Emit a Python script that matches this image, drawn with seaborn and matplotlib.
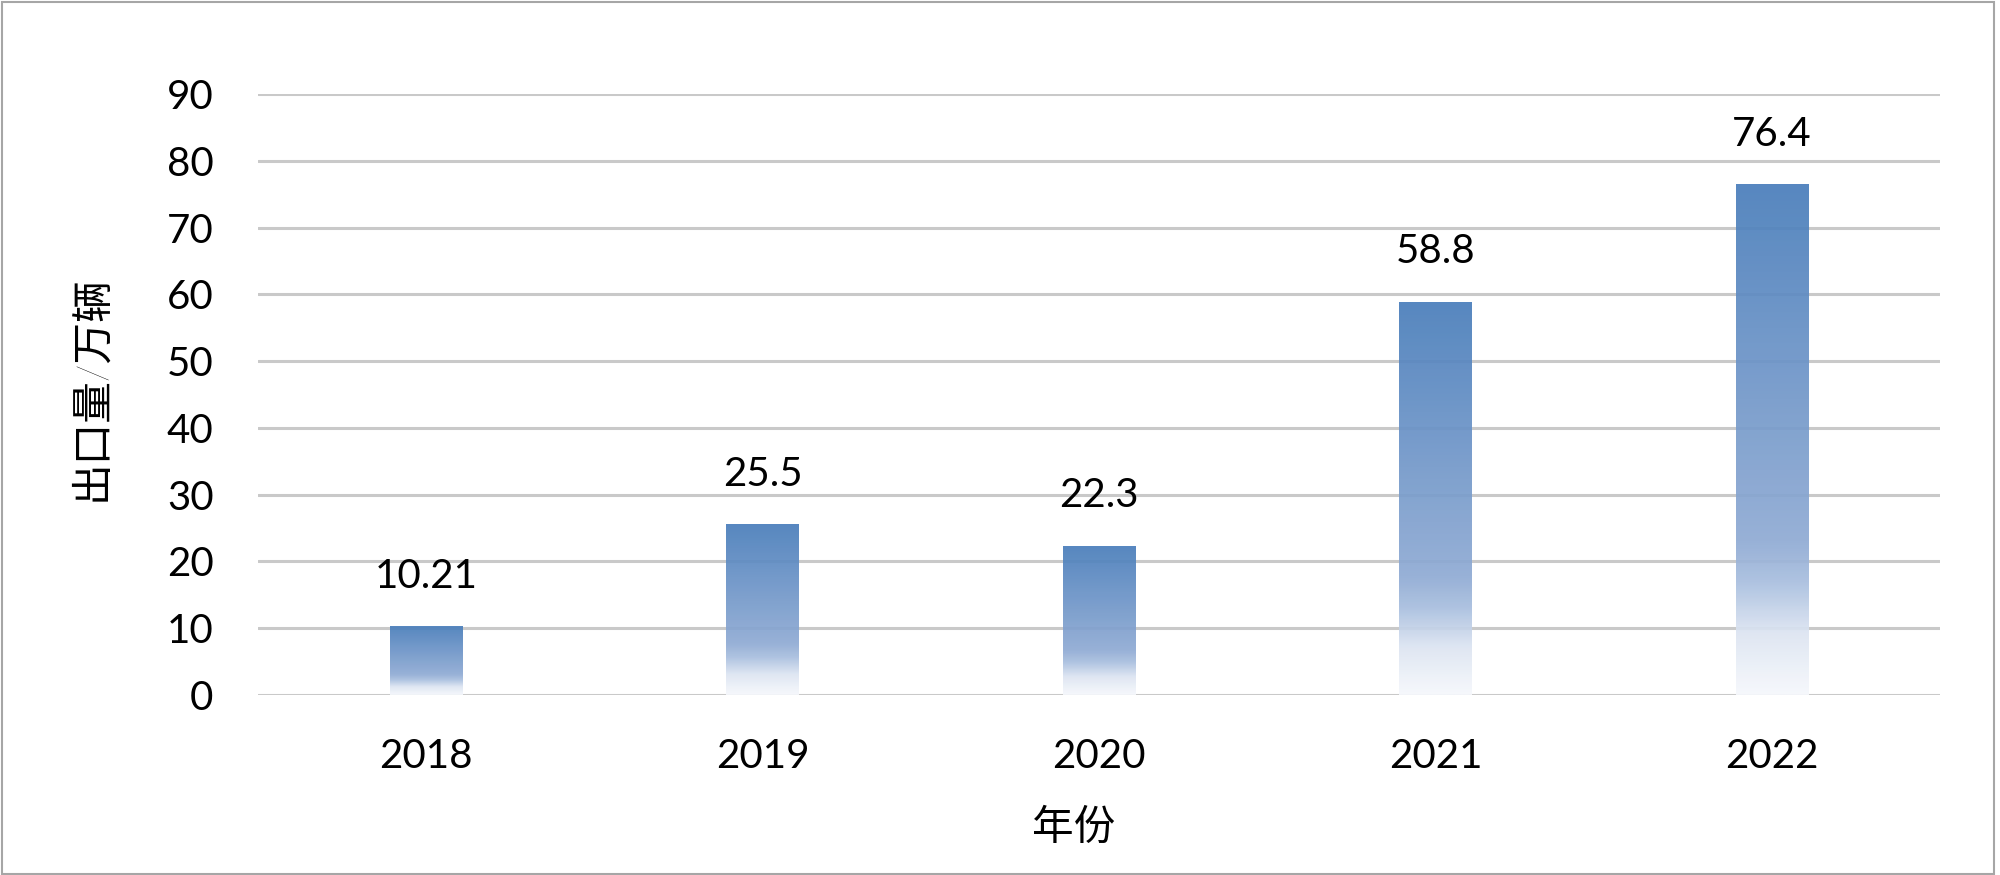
import numpy as np
import pandas as pd
import matplotlib
matplotlib.use("Agg")
import matplotlib.pyplot as plt
import seaborn as sns
from matplotlib.colors import LinearSegmentedColormap
from matplotlib.patches import Rectangle

years = ["2018", "2019", "2020", "2021", "2022"]
exports = [10.21, 25.5, 22.3, 58.8, 76.4]
yticks = [0, 10, 20, 30, 40, 50, 60, 70, 80, 90]
xlabel = "年份"
ylabel = "出口量/万辆"

sns.set_theme(style="white")
plt.rcParams['font.family'] = ['Lato', 'Noto Sans CJK SC', 'DejaVu Sans']

df = pd.DataFrame({"year": years, "value": exports})

fig = plt.figure(figsize=(20, 8.75), dpi=100)
ax = fig.add_axes([0.129, 0.2057, 0.841, 0.6869])

sns.barplot(data=df, x="year", y="value", ax=ax, width=0.215, color="#4a7ebb",
            saturation=1, zorder=2)

ax.set_ylim(0, 90)
ax.set_xlim(-0.5, 4.5)
ax.set_yticks(yticks)
ax.yaxis.grid(True, color="#c9c9c9", linewidth=2.2, zorder=0)
ax.set_axisbelow(True)
for s in ax.spines.values():
    s.set_visible(False)

cmap = LinearSegmentedColormap.from_list(
    "g", [(0.0, "#f6f8fc"), (0.12, "#dde5f2"), (0.22, "#a9bfdf"),
          (0.3, "#90abd4"), (1.0, "#4a7ebb")])
grad = np.linspace(0, 1, 256).reshape(-1, 1)
for p in ax.patches:
    x0, y0, w, h = p.get_x(), p.get_y(), p.get_width(), p.get_height()
    ax.imshow(grad, extent=[x0, x0 + w, y0, y0 + h], origin="lower", cmap=cmap,
              aspect="auto", zorder=2, alpha=0.93, interpolation="bilinear")
    p.set_facecolor("none")
    p.set_edgecolor("none")
    ax.annotate(f"{h:g}", (x0 + w / 2, h), xytext=(0, 28), textcoords="offset points",
                ha="center", va="baseline", fontsize=29, color="black")

ax.set_xlim(-0.5, 4.5)
ax.set_ylim(0, 90)

ax.tick_params(axis="both", length=0, labelsize=29, colors="black")
ax.tick_params(axis="x", pad=31)
ax.tick_params(axis="y", pad=32)

ax.set_xlabel(xlabel, fontsize=30, color="black", fontweight="light")
ax.set_ylabel(ylabel, fontsize=30, color="black", fontweight="light")
ax.xaxis.set_label_coords(0.485, -0.19)
ax.yaxis.set_label_coords(-0.087, 0.51)

fig.patches.append(Rectangle((0.001, 0.001), 0.996, 0.997, transform=fig.transFigure,
                             fill=False, edgecolor="#a6a6a6", linewidth=1.5))

fig.savefig("out.png", dpi=100, facecolor="white")
